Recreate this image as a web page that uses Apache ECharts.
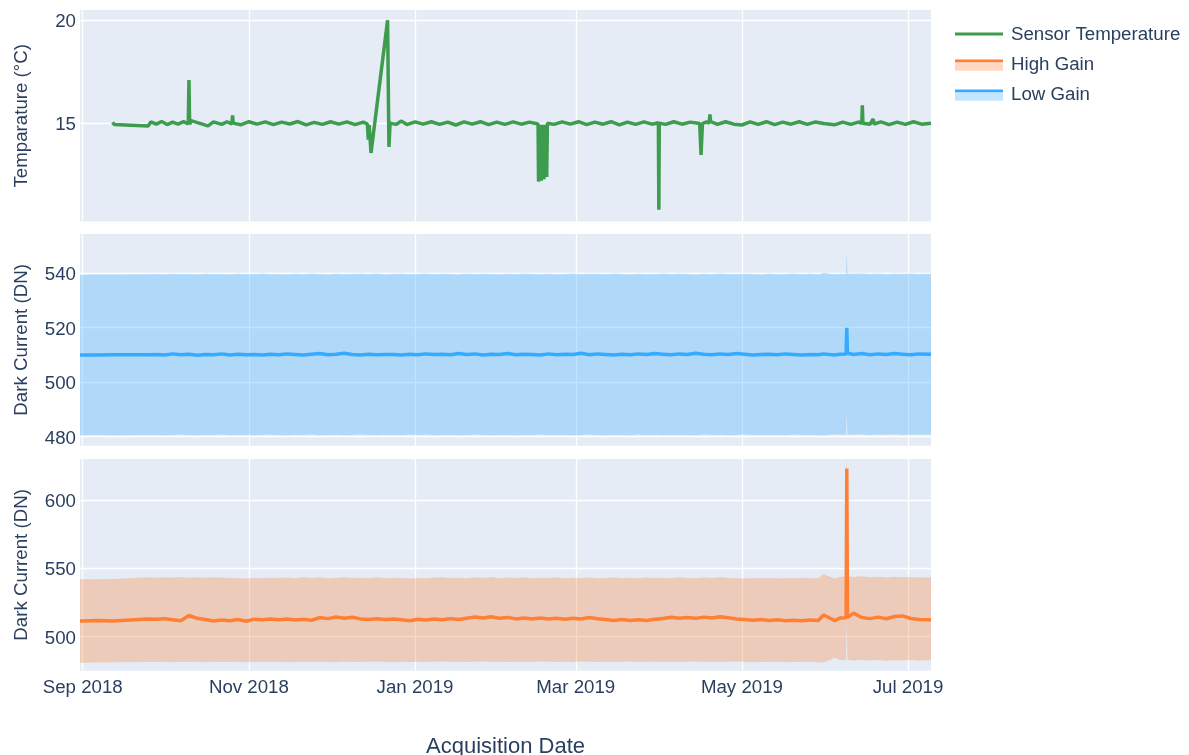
<!DOCTYPE html>
<html>
<head>
<meta charset="utf-8">
<script src="https://cdn.jsdelivr.net/npm/echarts@6/dist/echarts.min.js"></script>
<style>
  html, body { margin: 0; padding: 0; background: #fff; }
  #chart { width: 1189px; height: 755px; }
</style>
</head>
<body>
<div id="chart"></div>
<script>
// ---- data ----
// x axis tick labels
const monthTicks = ['2018-09-01', '2018-11-01', '2019-01-01', '2019-03-01', '2019-05-01', '2019-07-01'];
const monthLabels = ['Sep 2018', 'Nov 2018', 'Jan 2019', 'Mar 2019', 'May 2019', 'Jul 2019'];

// y axis ticks per panel
const tempTicks = [15, 20];
const lowTicks = [480, 500, 520, 540];
const highTicks = [500, 550, 600];

// sensor temperature (°C)
const tempDates = [
  '2018-09-12', '2018-09-12 12:00', '2018-09-25', '2018-09-26', '2018-09-28', '2018-09-30', '2018-10-02', '2018-10-04', '2018-10-06', '2018-10-08',
  '2018-10-09 18:00', '2018-10-10 00:00', '2018-10-10 06:00', '2018-10-10 18:00', '2018-10-17', '2018-10-19', '2018-10-22', '2018-10-24', '2018-10-25 18:00', '2018-10-26 00:00',
  '2018-10-26 06:00', '2018-10-29', '2018-11-01', '2018-11-04', '2018-11-07', '2018-11-10', '2018-11-13', '2018-11-16', '2018-11-19', '2018-11-22',
  '2018-11-25', '2018-11-28', '2018-12-01', '2018-12-04', '2018-12-07', '2018-12-10', '2018-12-13', '2018-12-14 12:00', '2018-12-14 20:00', '2018-12-15 04:00',
  '2018-12-15 20:00', '2018-12-21 22:00', '2018-12-22 10:00', '2018-12-22 20:00', '2018-12-25', '2018-12-27', '2018-12-29', '2019-01-01', '2019-01-04', '2019-01-07',
  '2019-01-10', '2019-01-13', '2019-01-16', '2019-01-19', '2019-01-22', '2019-01-25', '2019-01-28', '2019-01-31', '2019-02-03', '2019-02-06',
  '2019-02-09', '2019-02-12', '2019-02-15 04:00', '2019-02-15 08:00', '2019-02-15 20:00', '2019-02-16 08:00', '2019-02-16 20:00', '2019-02-17 08:00', '2019-02-17 20:00', '2019-02-18 08:00',
  '2019-02-18 14:00', '2019-02-21', '2019-02-24', '2019-02-27', '2019-03-02', '2019-03-05', '2019-03-08', '2019-03-11', '2019-03-14', '2019-03-17',
  '2019-03-20', '2019-03-23', '2019-03-26', '2019-03-29', '2019-03-31 08:00', '2019-03-31 12:00', '2019-03-31 16:00', '2019-04-03', '2019-04-06', '2019-04-09',
  '2019-04-12', '2019-04-15 12:00', '2019-04-16 00:00', '2019-04-16 12:00', '2019-04-18', '2019-04-19 00:00', '2019-04-19 06:00', '2019-04-19 12:00', '2019-04-22', '2019-04-25',
  '2019-04-28', '2019-05-01', '2019-05-04', '2019-05-07', '2019-05-10', '2019-05-13', '2019-05-16', '2019-05-19', '2019-05-22', '2019-05-25',
  '2019-05-28', '2019-05-31', '2019-06-04', '2019-06-07', '2019-06-10', '2019-06-13', '2019-06-14 00:00', '2019-06-14 05:00', '2019-06-14 10:00', '2019-06-17',
  '2019-06-18 05:00', '2019-06-18 12:00', '2019-06-21', '2019-06-24', '2019-06-27', '2019-06-30', '2019-07-03', '2019-07-06', '2019-07-09 10:00'
];
const tempValues = [
  15.04, 14.94, 14.86, 15.06, 14.95, 15.08, 14.93, 15.05, 14.95, 15.07,
  14.97, 17.10, 14.94, 15.12, 14.87, 15.06, 14.94, 15.07, 14.96, 15.38,
  15.00, 14.92, 15.07, 14.95, 15.06, 14.93, 15.05, 14.96, 15.08, 14.92,
  15.04, 14.94, 15.07, 14.95, 15.06, 14.93, 15.05, 14.96, 14.20, 14.90,
  13.55, 20.00, 13.85, 15.00, 14.94, 15.10, 14.93, 15.06, 14.95, 15.07,
  14.94, 15.05, 14.91, 15.06, 14.95, 15.07, 14.93, 15.05, 14.94, 15.06,
  14.95, 15.05, 14.96, 12.16, 14.92, 12.20, 14.92, 12.28, 14.92, 12.38,
  15.00, 14.94, 15.06, 14.95, 15.07, 14.93, 15.05, 14.95, 15.07, 14.92,
  15.05, 14.94, 15.06, 14.95, 15.02, 10.79, 15.00, 14.94, 15.07, 14.95,
  15.05, 14.98, 13.46, 14.98, 15.06, 15.00, 15.43, 15.08, 14.94, 15.07,
  14.95, 14.91, 15.06, 14.94, 15.07, 14.93, 15.05, 14.95, 15.07, 14.94,
  15.06, 14.98, 14.92, 15.05, 14.94, 15.06, 14.98, 15.87, 15.00, 14.95,
  15.20, 14.96, 15.06, 14.93, 15.05, 14.94, 15.07, 14.95, 15.00
];

// dark current sampling dates (shared by both gains)
const dcDates = [
  '2018-08-31', '2018-09-01', '2018-09-06', '2018-09-12', '2018-09-25', '2018-09-28', '2018-10-01', '2018-10-04', '2018-10-07', '2018-10-10',
  '2018-10-13', '2018-10-16', '2018-10-19', '2018-10-22', '2018-10-25', '2018-10-28', '2018-10-31', '2018-11-03', '2018-11-06', '2018-11-09',
  '2018-11-12', '2018-11-15', '2018-11-18', '2018-11-21', '2018-11-24', '2018-11-27', '2018-11-30', '2018-12-03', '2018-12-06', '2018-12-09',
  '2018-12-12', '2018-12-15', '2018-12-18', '2018-12-21', '2018-12-24', '2018-12-27', '2018-12-30', '2019-01-02', '2019-01-05', '2019-01-08',
  '2019-01-11', '2019-01-14', '2019-01-17', '2019-01-20', '2019-01-23', '2019-01-26', '2019-01-29', '2019-02-01', '2019-02-04', '2019-02-07',
  '2019-02-10', '2019-02-13', '2019-02-16', '2019-02-19', '2019-02-22', '2019-02-25', '2019-02-28', '2019-03-03', '2019-03-06', '2019-03-09',
  '2019-03-12', '2019-03-15', '2019-03-18', '2019-03-21', '2019-03-24', '2019-03-27', '2019-03-30', '2019-04-02', '2019-04-05', '2019-04-08',
  '2019-04-11', '2019-04-14', '2019-04-17', '2019-04-20', '2019-04-23', '2019-04-26', '2019-04-29', '2019-05-02', '2019-05-05', '2019-05-08',
  '2019-05-11', '2019-05-14', '2019-05-17', '2019-05-20', '2019-05-23', '2019-05-26', '2019-05-29', '2019-05-31', '2019-06-04', '2019-06-06',
  '2019-06-08 06:00', '2019-06-08 12:00', '2019-06-08 18:00', '2019-06-11', '2019-06-14', '2019-06-17', '2019-06-20', '2019-06-23', '2019-06-26', '2019-06-29',
  '2019-07-02', '2019-07-05', '2019-07-09 10:00'
];

// low gain dark current (DN): mean and band
const lowMean = [
  510.0, 510.0, 510.0, 510.1, 510.1, 510.2, 510.0, 510.4, 510.1, 510.3,
  509.9, 510.2, 510.1, 510.4, 510.0, 510.3, 510.1, 510.2, 510.0, 510.3,
  510.1, 510.4, 510.2, 510.0, 510.3, 510.5, 510.1, 510.3, 510.6, 510.2,
  510.0, 510.3, 510.1, 510.2, 510.2, 510.0, 510.3, 510.1, 510.4, 510.2,
  510.3, 510.1, 510.5, 510.2, 510.4, 510.0, 510.3, 510.2, 510.5, 510.1,
  510.3, 510.2, 510.0, 510.4, 510.1, 510.3, 510.2, 510.6, 510.1, 510.4,
  510.2, 510.0, 510.3, 510.1, 510.4, 510.2, 510.5, 510.3, 510.1, 510.4,
  510.2, 510.6, 510.3, 510.1, 510.4, 510.2, 510.5, 510.3, 510.0, 510.2,
  510.3, 510.1, 510.4, 510.2, 510.0, 510.2, 510.1, 510.4, 510.0, 510.3,
  510.4, 520.0, 510.6, 510.2, 510.5, 510.1, 510.4, 510.2, 510.5, 510.3,
  510.1, 510.4, 510.3
];
const lowUpper = [
  539.4, 539.4, 539.5, 539.5, 539.6, 539.7, 539.5, 539.8, 539.6, 539.7,
  539.5, 539.8, 539.6, 539.7, 539.5, 539.8, 539.6, 539.7, 539.9, 539.6,
  539.7, 539.5, 539.8, 539.6, 539.9, 539.7, 539.5, 539.8, 539.6, 539.7,
  539.8, 539.6, 539.9, 539.5, 539.7, 539.8, 539.6, 539.7, 539.9, 539.6,
  539.8, 539.7, 539.5, 539.9, 539.6, 539.8, 539.7, 539.5, 539.8, 539.6,
  539.9, 539.7, 539.6, 539.8, 539.5, 539.7, 539.9, 539.6, 539.8, 539.7,
  539.6, 539.9, 539.7, 539.5, 539.8, 539.6, 539.7, 539.9, 539.6, 539.8,
  539.7, 539.5, 539.8, 539.6, 539.9, 539.7, 539.6, 539.8, 539.7, 539.5,
  539.8, 539.6, 539.7, 539.9, 539.6, 539.8, 539.5, 540.2, 539.6, 539.8,
  539.7, 547.9, 539.9, 539.8, 540.0, 539.7, 539.9, 539.6, 539.8, 539.7,
  539.9, 539.7, 539.8
];
const lowLower = [
  480.5, 480.5, 480.6, 480.5, 480.6, 480.7, 480.5, 480.6, 480.8, 480.6,
  480.5, 480.7, 480.6, 480.8, 480.5, 480.6, 480.7, 480.5, 480.6, 480.8,
  480.6, 480.5, 480.7, 480.6, 480.8, 480.5, 480.6, 480.7, 480.5, 480.6,
  480.8, 480.6, 480.5, 480.7, 480.6, 480.5, 480.7, 480.6, 480.8, 480.5,
  480.6, 480.7, 480.5, 480.6, 480.8, 480.6, 480.5, 480.7, 480.6, 480.5,
  480.7, 480.6, 480.8, 480.5, 480.6, 480.7, 480.5, 480.6, 480.8, 480.6,
  480.5, 480.7, 480.6, 480.5, 480.8, 480.6, 480.7, 480.5, 480.6, 480.7,
  480.6, 480.5, 480.8, 480.6, 480.7, 480.5, 480.6, 480.8, 480.6, 480.5,
  480.7, 480.6, 480.5, 480.8, 480.6, 480.7, 480.5, 480.4, 480.9, 480.7,
  480.8, 488.7, 480.9, 480.7, 480.9, 480.6, 480.8, 480.7, 480.9, 480.6,
  480.8, 480.7, 480.8
];

// high gain dark current (DN): mean and band
const highMean = [
  511.4, 511.5, 511.9, 511.4, 513.0, 512.8, 513.2, 512.4, 511.6, 515.5,
  513.4, 512.6, 511.4, 512.2, 511.7, 512.5, 511.3, 512.8, 512.3, 513.0,
  512.4, 512.9, 512.2, 512.7, 512.0, 514.0, 513.2, 514.4, 513.5, 514.2,
  513.0, 512.5, 513.1, 512.6, 512.9, 512.4, 511.6, 512.8, 512.2, 513.0,
  512.4, 513.2, 512.6, 513.5, 514.4, 513.6, 514.6, 513.4, 514.1, 513.0,
  513.6, 512.9, 513.7, 513.0, 513.4, 512.8, 513.5, 512.9, 514.0, 513.1,
  512.5, 511.9, 512.6, 511.8, 512.4, 511.9, 512.8, 513.3, 514.2, 513.5,
  514.0, 513.4, 514.3, 513.6, 514.6, 513.8, 513.0, 512.6, 512.0, 512.5,
  511.8, 512.3, 511.6, 512.0, 511.7, 512.2, 511.8, 515.9, 511.8, 513.6,
  513.8, 623.0, 514.2, 517.2, 514.0, 513.2, 514.3, 513.1, 514.8, 515.2,
  513.3, 512.6, 512.4
];
const highUpper = [
  542.0, 542.0, 542.1, 542.2, 543.4, 543.2, 543.5, 543.3, 543.6, 543.2,
  543.4, 543.1, 543.5, 543.3, 543.0, 542.8, 542.6, 543.0, 542.8, 543.2,
  542.9, 543.3, 542.7, 543.6, 543.0, 543.4, 542.8, 543.1, 543.5, 542.9,
  543.2, 542.8, 543.4, 542.7, 543.1, 542.9, 542.6, 543.0, 542.8, 543.3,
  543.5, 542.9, 543.2, 542.7, 543.4, 543.0, 543.6, 542.8, 543.3, 542.9,
  543.4, 542.7, 543.2, 543.0, 543.5, 542.8, 543.1, 542.9, 543.3, 542.7,
  543.0, 543.4, 542.8, 543.1, 542.7, 543.3, 542.9, 543.2, 542.8, 543.4,
  543.0, 542.8, 543.3, 542.9, 543.6, 543.0, 542.7, 542.6, 542.9, 542.7,
  543.0, 542.6, 542.9, 542.7, 543.1, 542.8, 542.7, 545.6, 542.6, 543.8,
  543.8, 650.0, 544.1, 543.7, 544.2, 543.5, 543.9, 543.3, 543.8, 543.4,
  543.7, 543.3, 543.5
];
const highLower = [
  481.0, 481.0, 481.1, 481.2, 481.5, 481.4, 481.6, 481.3, 481.5, 481.4,
  481.6, 481.3, 481.7, 481.5, 481.4, 481.6, 481.3, 481.5, 481.7, 481.4,
  481.6, 481.3, 481.5, 481.7, 481.4, 481.6, 481.5, 481.3, 481.7, 481.5,
  481.4, 481.6, 481.8, 481.5, 481.3, 481.6, 481.4, 481.7, 481.5, 481.6,
  481.8, 481.5, 481.7, 481.4, 481.6, 481.8, 481.5, 481.7, 481.4, 481.6,
  481.7, 481.5, 481.8, 481.6, 481.4, 481.7, 481.5, 481.8, 481.6, 481.5,
  481.7, 481.4, 481.6, 481.8, 481.5, 481.7, 481.6, 481.4, 481.7, 481.5,
  481.6, 481.8, 481.5, 481.7, 481.4, 481.6, 481.8, 481.5, 481.3, 481.5,
  481.4, 481.6, 481.3, 481.5, 481.4, 481.6, 481.3, 481.1, 484.4, 483.0,
  482.8, 510.0, 483.1, 482.6, 483.0, 482.5, 482.9, 482.4, 482.8, 482.6,
  482.9, 482.5, 482.7
];

// ---- chart ----
const FONT = '"Liberation Sans", Arial, sans-serif';
const TEXT = '#2a3f5f';
const GREEN = '#3d9c4d';
const ORANGE = '#ff7f33';
const BLUE = '#35abff';
const FS = 18.7;

function toTime(s) {
  const parts = s.split(' ');
  const d = parts[0].split('-').map(Number);
  const t = parts[1] ? parts[1].split(':').map(Number) : [0, 0];
  return new Date(d[0], d[1] - 1, d[2], t[0], t[1]).getTime();
}
function pairs(dates, vals) {
  return dates.map((d, i) => [toTime(d), vals[i]]);
}

const monthTimes = monthTicks.map(toTime);
const xMin = toTime(dcDates[0]);
const xMax = toTime(dcDates[dcDates.length - 1]);

function svgIcon(body) {
  return 'image://data:image/svg+xml;charset=utf-8,' + encodeURIComponent(
    '<svg xmlns="http://www.w3.org/2000/svg" width="51" height="12">' + body + '</svg>');
}
const lineIcon = svgIcon('<rect x="0" y="3.5" width="48" height="3" fill="' + GREEN + '"/>');
const bandIcon = (c) => svgIcon('<rect x="0" y="0.5" width="48" height="2.7" fill="' + c + '"/>' +
  '<rect x="0" y="3.2" width="48" height="8.5" fill="' + c + '" fill-opacity="0.3"/>');

const grids = [
  {top: 10, height: 211.5},
  {top: 234, height: 211.7},
  {top: 459, height: 211.7}
].map(g => Object.assign({
  left: 80, right: 258, show: true, backgroundColor: '#e5ecf6', borderWidth: 0,
  outerBoundsMode: 'none'
}, g));

// value axes (0-2) carry the month grid lines and labels,
// hidden time axes (3-5) with the same range carry the series
const tickAxes = [0, 1, 2].map(i => ({
  type: 'value',
  gridIndex: i,
  position: 'bottom',
  min: xMin,
  max: xMax,
  axisLine: {show: false},
  axisTick: {show: false, customValues: monthTimes},
  axisLabel: {
    show: i === 2,
    customValues: monthTimes,
    margin: 8,
    color: TEXT,
    fontSize: FS,
    fontFamily: FONT,
    formatter: (v) => {
      const k = monthTimes.findIndex(t => Math.abs(t - v) < 3600e3);
      return k >= 0 ? monthLabels[k] : '';
    }
  },
  splitLine: {show: true, lineStyle: {color: '#ffffff', width: 1.3}},
  name: i === 2 ? 'Acquisition Date' : '',
  nameLocation: 'middle',
  nameGap: 65,
  nameMoveOverlap: false,
  nameTextStyle: {color: TEXT, fontSize: 22, fontFamily: FONT}
}));
const timeAxes = [0, 1, 2].map(i => ({
  type: 'time',
  gridIndex: i,
  position: 'top',
  min: xMin,
  max: xMax,
  show: false
}));

function yAxis(i, min, max, ticks, name) {
  return {
    type: 'value',
    gridIndex: i,
    min: min,
    max: max,
    axisLine: {show: false},
    axisTick: {show: false, customValues: ticks},
    axisLabel: {
      customValues: ticks, margin: 4, verticalAlign: 'top', lineHeight: 4,
      color: TEXT, fontSize: FS, fontFamily: FONT
    },
    splitLine: {show: true, lineStyle: {color: '#ffffff', width: 1.3}},
    name: name,
    nameLocation: 'middle',
    nameGap: 49,
    nameMoveOverlap: false,
    nameTextStyle: {color: TEXT, fontSize: FS, fontFamily: FONT}
  };
}

function bandSeries(name, idx, lower, upper, color) {
  return [{
    name: name, type: 'line', xAxisIndex: idx + 3, yAxisIndex: idx, stack: 'band' + idx,
    data: pairs(dcDates, lower), symbol: 'none', lineStyle: {width: 0}, silent: true
  }, {
    name: name, type: 'line', xAxisIndex: idx + 3, yAxisIndex: idx, stack: 'band' + idx,
    data: pairs(dcDates, upper.map((v, k) => v - lower[k])), symbol: 'none',
    lineStyle: {width: 0}, areaStyle: {color: color, opacity: 1}, silent: true
  }];
}

const chart = echarts.init(document.getElementById('chart'));
chart.setOption({
  animation: false,
  backgroundColor: '#ffffff',
  grid: grids,
  xAxis: tickAxes.concat(timeAxes),
  yAxis: [
    yAxis(0, 10.22, 20.5, tempTicks, 'Temparature (°C)'),
    yAxis(1, 476.7, 554.4, lowTicks, 'Dark Current (DN)'),
    yAxis(2, 475.1, 630, highTicks, 'Dark Current (DN)')
  ],
  legend: {
    orient: 'vertical',
    left: 955,
    top: 24,
    padding: 0,
    itemWidth: 51,
    itemHeight: 12,
    itemGap: 8,
    textStyle: {color: TEXT, fontSize: FS, lineHeight: 22, fontFamily: FONT},
    data: [
      {name: 'Sensor Temperature', icon: lineIcon},
      {name: 'High Gain', icon: bandIcon(ORANGE)},
      {name: 'Low Gain', icon: bandIcon(BLUE)}
    ]
  },
  series: [
    {
      name: 'Sensor Temperature', type: 'line', xAxisIndex: 3, yAxisIndex: 0,
      data: pairs(tempDates, tempValues), symbol: 'none',
      lineStyle: {color: GREEN, width: 3.5}, itemStyle: {color: GREEN}
    },
    ...bandSeries('Low Gain', 1, lowLower, lowUpper, 'rgba(51,170,255,0.3)'),
    {
      name: 'Low Gain', type: 'line', xAxisIndex: 4, yAxisIndex: 1,
      data: pairs(dcDates, lowMean), symbol: 'none',
      lineStyle: {color: BLUE, width: 3.5}, itemStyle: {color: BLUE}
    },
    ...bandSeries('High Gain', 2, highLower, highUpper, 'rgba(255,127,51,0.3)'),
    {
      name: 'High Gain', type: 'line', xAxisIndex: 5, yAxisIndex: 2,
      data: pairs(dcDates, highMean), symbol: 'none',
      lineStyle: {color: ORANGE, width: 3.5}, itemStyle: {color: ORANGE}
    }
  ]
});
</script>
</body>
</html>
